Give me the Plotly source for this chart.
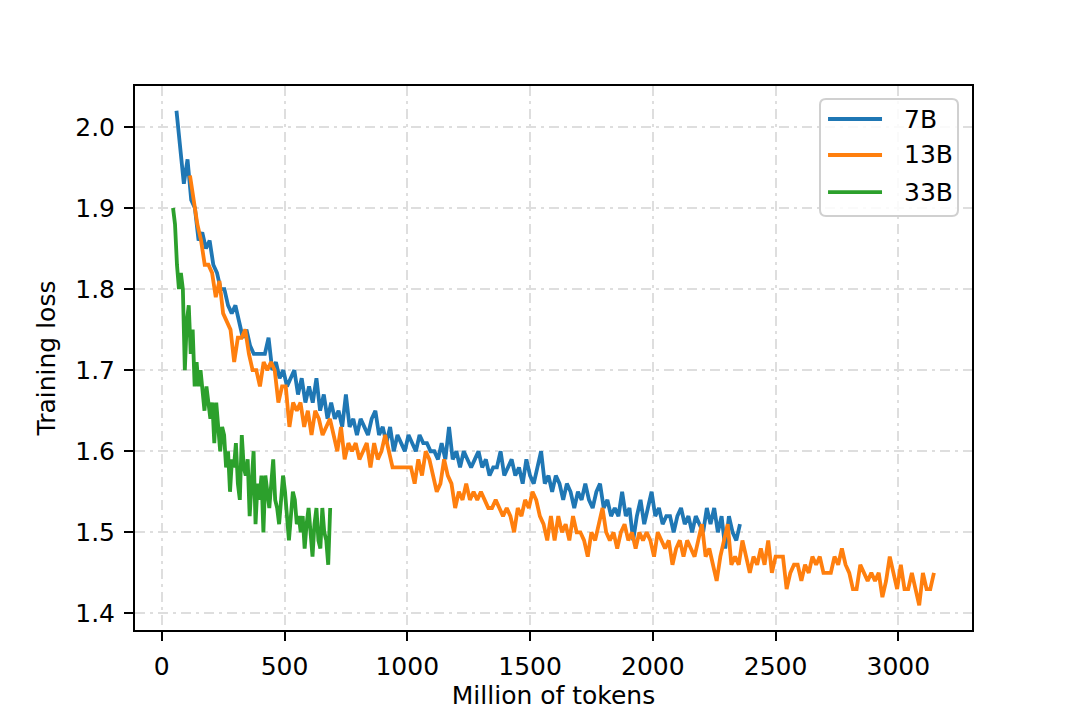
import numpy as np
import plotly.graph_objects as go

# training loss curves
model_names = ['7B', '13B', '33B']
line_colors = ['#1f77b4', '#ff7f0e', '#2ca02c']

# tokens: first logged point and spacing (million tokens)
start_7b, step_7b = 60, 15
start_13b, step_13b = 115, 15
start_33b, step_33b = 46, 8

loss_7b = [
    2.02, 1.98, 1.93, 1.96, 1.91, 1.90, 1.86, 1.87, 1.85, 1.86,
    1.83, 1.82, 1.80, 1.80, 1.78, 1.77, 1.78, 1.76, 1.74, 1.75,
    1.73, 1.72, 1.72, 1.72, 1.72, 1.74, 1.70, 1.71, 1.69, 1.70,
    1.68, 1.69, 1.70, 1.67, 1.69, 1.66, 1.68, 1.66, 1.69, 1.65,
    1.67, 1.64, 1.66, 1.64, 1.65, 1.63, 1.67, 1.63, 1.64, 1.62,
    1.64, 1.63, 1.62, 1.64, 1.65, 1.62, 1.63, 1.61, 1.63, 1.60,
    1.62, 1.61, 1.60, 1.62, 1.61, 1.60, 1.62, 1.61, 1.61, 1.60,
    1.60, 1.59, 1.61, 1.59, 1.63, 1.59, 1.60, 1.58, 1.60, 1.59,
    1.58, 1.59, 1.60, 1.58, 1.59, 1.57, 1.58, 1.58, 1.60, 1.57,
    1.58, 1.59, 1.57, 1.58, 1.56, 1.59, 1.57, 1.56, 1.58, 1.60,
    1.56, 1.57, 1.55, 1.57, 1.56, 1.54, 1.56, 1.55, 1.53, 1.55,
    1.54, 1.56, 1.54, 1.53, 1.55, 1.56, 1.53, 1.54, 1.52, 1.53,
    1.52, 1.55, 1.52, 1.53, 1.49, 1.52, 1.54, 1.51, 1.53, 1.55,
    1.52, 1.53, 1.51, 1.52, 1.52, 1.50, 1.52, 1.53, 1.51, 1.52,
    1.50, 1.52, 1.51, 1.50, 1.53, 1.51, 1.53, 1.50, 1.52, 1.48,
    1.52, 1.50, 1.49, 1.51,
]

loss_13b = [
    1.94, 1.91, 1.88, 1.86, 1.83, 1.83, 1.82, 1.79, 1.81, 1.77,
    1.76, 1.75, 1.71, 1.74, 1.74, 1.75, 1.72, 1.70, 1.70, 1.68,
    1.71, 1.70, 1.71, 1.70, 1.66, 1.68, 1.68, 1.63, 1.66, 1.65,
    1.66, 1.63, 1.65, 1.62, 1.65, 1.64, 1.62, 1.63, 1.64, 1.62,
    1.60, 1.63, 1.59, 1.61, 1.60, 1.61, 1.59, 1.60, 1.61, 1.58,
    1.61, 1.59, 1.60, 1.62, 1.60, 1.58, 1.58, 1.58, 1.58, 1.58,
    1.58, 1.56, 1.59, 1.57, 1.60, 1.59, 1.57, 1.55, 1.56, 1.59,
    1.57, 1.56, 1.53, 1.55, 1.54, 1.56, 1.54, 1.55, 1.54, 1.55,
    1.54, 1.53, 1.53, 1.54, 1.53, 1.52, 1.53, 1.52, 1.50, 1.53,
    1.52, 1.54, 1.53, 1.55, 1.54, 1.52, 1.51, 1.49, 1.52, 1.49,
    1.52, 1.50, 1.51, 1.49, 1.52, 1.50, 1.50, 1.49, 1.47, 1.50,
    1.49, 1.51, 1.53, 1.50, 1.49, 1.50, 1.48, 1.50, 1.51, 1.49,
    1.50, 1.48, 1.50, 1.49, 1.50, 1.49, 1.47, 1.50, 1.49, 1.48,
    1.49, 1.46, 1.48, 1.49, 1.47, 1.49, 1.48, 1.47, 1.49, 1.51,
    1.47, 1.48, 1.46, 1.44, 1.47, 1.49, 1.51, 1.46, 1.47, 1.46,
    1.49, 1.47, 1.45, 1.47, 1.46, 1.48, 1.46, 1.49, 1.45, 1.47,
    1.47, 1.47, 1.43, 1.45, 1.46, 1.46, 1.44, 1.46, 1.45, 1.47,
    1.46, 1.47, 1.45, 1.45, 1.45, 1.47, 1.46, 1.48, 1.46, 1.45,
    1.43, 1.43, 1.46, 1.45, 1.44, 1.45, 1.44, 1.45, 1.42, 1.44,
    1.47, 1.45, 1.43, 1.46, 1.43, 1.43, 1.45, 1.43, 1.41, 1.45,
    1.43, 1.43, 1.45,
]

loss_33b = [
    1.90, 1.88, 1.83, 1.80, 1.82, 1.80, 1.70, 1.76, 1.78, 1.72,
    1.75, 1.68, 1.71, 1.68, 1.70, 1.67, 1.65, 1.68, 1.66, 1.64,
    1.66, 1.61, 1.66, 1.63, 1.60, 1.63, 1.62, 1.58, 1.60, 1.55,
    1.59, 1.58, 1.61, 1.56, 1.54, 1.62, 1.58, 1.57, 1.59, 1.52,
    1.56, 1.60, 1.51, 1.56, 1.54, 1.57, 1.50, 1.57, 1.55, 1.53,
    1.56, 1.59, 1.54, 1.53, 1.51, 1.54, 1.57, 1.55, 1.52, 1.49,
    1.52, 1.55, 1.54, 1.51, 1.52, 1.50, 1.52, 1.48, 1.51, 1.53,
    1.50, 1.47, 1.51, 1.53, 1.49, 1.48, 1.53, 1.50, 1.49, 1.46,
    1.53,
]

x_ticks = [0, 500, 1000, 1500, 2000, 2500, 3000]
y_ticks = [1.4, 1.5, 1.6, 1.7, 1.8, 1.9, 2.0]

tokens_7b = start_7b + step_7b * np.arange(len(loss_7b))
tokens_13b = start_13b + step_13b * np.arange(len(loss_13b))
tokens_33b = start_33b + step_33b * np.arange(len(loss_33b))

series = [(tokens_7b, loss_7b), (tokens_13b, loss_13b), (tokens_33b, loss_33b)]

FONT = 'DejaVu Sans'
FS = 25
LW = 3.8

fig = go.Figure()
for (xs, ys), name, color in zip(series, model_names, line_colors):
    fig.add_trace(go.Scatter(x=xs, y=ys, mode='lines', name=name,
                             line=dict(color=color, width=LW), showlegend=False))

# matplotlib-like 5% margins around the data
all_x = np.concatenate([s[0] for s in series])
all_y = np.concatenate([s[1] for s in series])
pad_x = 0.05 * (all_x.max() - all_x.min())
pad_y = 0.05 * (all_y.max() - all_y.min())

axis_style = dict(showline=True, linecolor='black', linewidth=2, mirror=True,
                  ticks='outside', ticklen=9, tickwidth=2, tickcolor='black',
                  ticklabelstandoff=4,
                  showgrid=True, gridcolor='#dedede', gridwidth=2,
                  griddash='10px,5px,3px,5px', zeroline=False, automargin=False,
                  tickfont=dict(family=FONT, size=FS, color='black'))

fig.update_xaxes(range=[all_x.min() - pad_x, all_x.max() + pad_x], tickvals=x_ticks,
                 title=dict(text='Million of tokens', standoff=2,
                            font=dict(family=FONT, size=FS, color='black')),
                 **axis_style)
fig.update_yaxes(range=[all_y.min() - pad_y, all_y.max() + pad_y], tickvals=y_ticks,
                 tickformat='.1f',
                 title=dict(text='Training loss', standoff=12,
                            font=dict(family=FONT, size=FS, color='black')),
                 **axis_style)

# legend box drawn by hand (rounded frame, long line samples like matplotlib)
bx0, bx1, by0, by1 = 0.8184, 0.9833, 0.7610, 0.9761
rx, ry = 0.0072, 0.011
box_path = (f'M {bx0 + rx},{by1} L {bx1 - rx},{by1} Q {bx1},{by1} {bx1},{by1 - ry} '
            f'L {bx1},{by0 + ry} Q {bx1},{by0} {bx1 - rx},{by0} '
            f'L {bx0 + rx},{by0} Q {bx0},{by0} {bx0},{by0 + ry} '
            f'L {bx0},{by1 - ry} Q {bx0},{by1} {bx0 + rx},{by1} Z')
fig.add_shape(type='path', path=box_path, xref='paper', yref='paper',
              line=dict(color='#d0d0d0', width=2), fillcolor='rgba(255,255,255,0.85)')

legend_rows = [0.9393, 0.8732, 0.8051]
for yy, name, color in zip(legend_rows, model_names, line_colors):
    fig.add_shape(type='line', xref='paper', yref='paper', x0=0.828, x1=0.8925,
                  y0=yy, y1=yy, line=dict(color=color, width=LW))
    fig.add_annotation(text=name, xref='paper', yref='paper', x=0.9164, y=yy,
                       xanchor='left', yanchor='middle', showarrow=False,
                       font=dict(family=FONT, size=FS, color='black'))

# the page body adds an 8 px offset, so margins are shifted to keep the frame in place
fig.update_layout(width=1080, height=720,
                  margin=dict(l=127, r=116, t=78, b=98),
                  plot_bgcolor='white', paper_bgcolor='white',
                  font=dict(family=FONT, size=FS, color='black'))

fig.write_html("out.html")
